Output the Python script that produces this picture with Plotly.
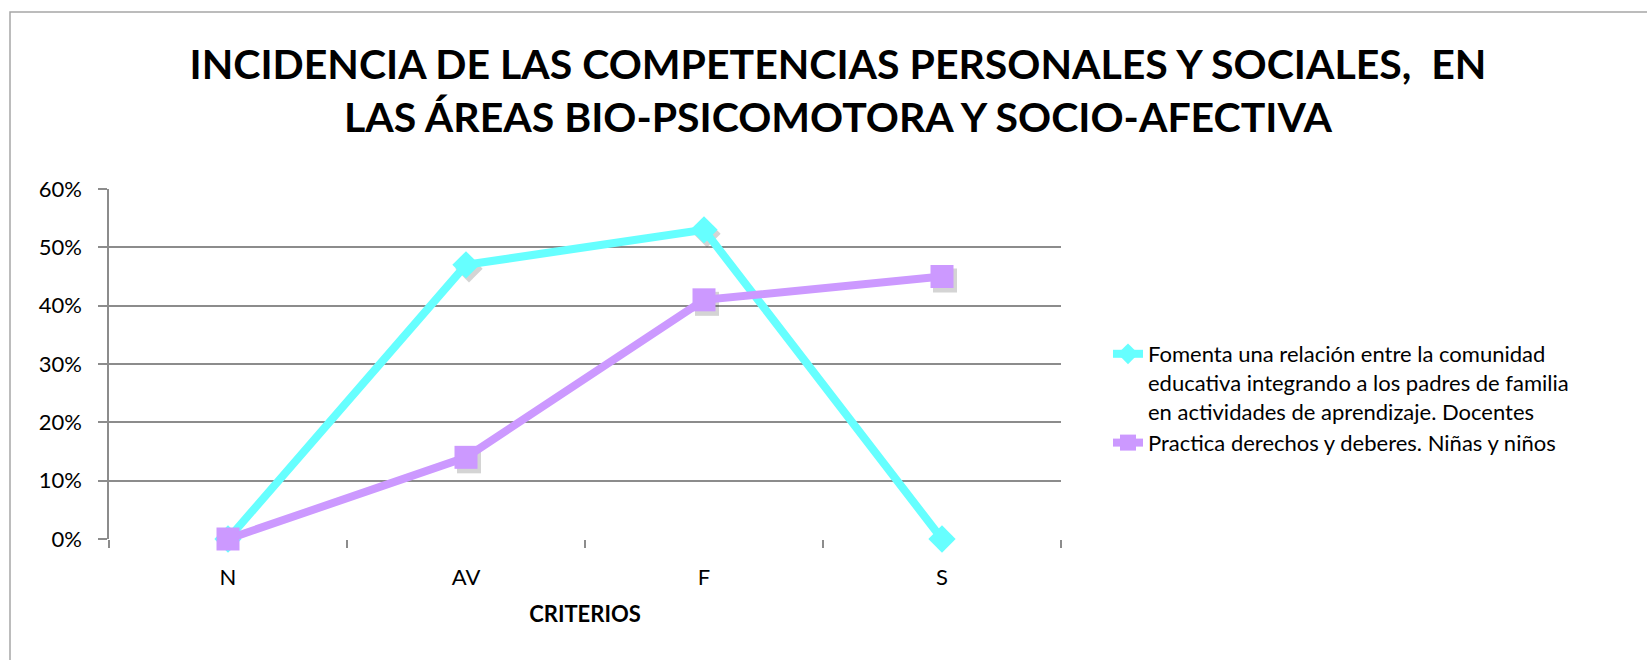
import plotly.graph_objects as go

# Data
criterios = ["N", "AV", "F", "S"]
docentes = [0.00, 0.47, 0.53, 0.00]
ninos = [0.00, 0.14, 0.41, 0.45]

nombre_docentes = ("Fomenta una relación entre la comunidad<br>"
                   "educativa integrando a los padres de familia<br>"
                   "en actividades de aprendizaje. Docentes")
nombre_ninos = "Practica derechos y deberes. Niñas y niños"

titulo = ("INCIDENCIA DE LAS COMPETENCIAS PERSONALES Y SOCIALES,  EN<br>"
          "LAS ÁREAS BIO-PSICOMOTORA Y SOCIO-AFECTIVA")

CYAN = "#66FFFF"
LILA = "#CC99FF"
GRID = "#8c8c8c"
FONT = "Lato, 'Open Sans', sans-serif"

W, H = 1647, 660
L, R, T, B = 109, W - 1061, 189, H - 539
plot_w = W - L - R
plot_h = H - T - B

# pixel offset of the marker drop shadows, expressed as axis-range shifts
sx = 3 / (plot_w / 4)
sy = 4 / plot_h * 0.6

fig = go.Figure()

# soft drop shadows under the markers (base axes, shifted range)
for vals, sym, size in [(docentes, "diamond", 21), (ninos, "square", 24)]:
    fig.add_trace(go.Scatter(
        x=criterios, y=vals, mode="markers", showlegend=False, hoverinfo="skip",
        cliponaxis=False,
        marker=dict(symbol=sym, size=size, color="rgba(60,60,60,0.22)",
                    line=dict(width=0)),
        xaxis="x", yaxis="y"))

fig.add_trace(go.Scatter(
    x=criterios, y=docentes, name=nombre_docentes, mode="lines+markers",
    cliponaxis=False,
    line=dict(color=CYAN, width=8),
    marker=dict(symbol="diamond", size=21, color=CYAN, line=dict(width=0)),
    xaxis="x2", yaxis="y2"))
fig.add_trace(go.Scatter(
    x=criterios, y=ninos, name=nombre_ninos, mode="lines+markers",
    cliponaxis=False,
    line=dict(color=LILA, width=8),
    marker=dict(symbol="square", size=23, color=LILA, line=dict(width=0)),
    xaxis="x2", yaxis="y2"))

fig.update_layout(
    width=W, height=H,
    margin=dict(l=L, r=R, t=T, b=B, pad=0),
    paper_bgcolor="white", plot_bgcolor="white",
    font=dict(family=FONT, size=22, color="#000000"),
    title=dict(text=titulo, xref="container", x=838 / W, xanchor="center",
               yref="container", y=1 - 79 / H, yanchor="middle",
               font=dict(family=FONT, size=41, color="#000000", weight="bold")),
    xaxis=dict(type="category", categoryorder="array", categoryarray=criterios,
               range=[-0.5 - sx, 3.5 - sx], visible=False, fixedrange=True),
    yaxis=dict(range=[0 + sy, 0.6 + sy], visible=False, fixedrange=True),
    xaxis2=dict(type="category", categoryorder="array", categoryarray=criterios,
                range=[-0.5, 3.5], overlaying="x", anchor="y2", side="bottom",
                showgrid=False, showline=False, zeroline=False,
                ticks="outside", tickson="boundaries", ticklen=8,
                tickcolor=GRID, tickwidth=1.5, ticklabelstandoff=23,
                tickfont=dict(size=22),
                title=dict(text="<b>CRITERIOS</b>", standoff=17,
                           font=dict(size=22))),
    yaxis2=dict(range=[0, 0.6], overlaying="y", anchor="x2", side="left",
                dtick=0.1, tickformat=".0%",
                showgrid=True, gridcolor=GRID, gridwidth=1.5,
                showline=True, linecolor=GRID, linewidth=1.5,
                zeroline=False, ticks="outside", ticklen=9,
                tickcolor=GRID, tickwidth=1.5, ticklabelstandoff=12,
                tickfont=dict(size=22)),
    legend=dict(x=(1108 - L) / plot_w, xanchor="left",
                y=(539 - 333) / plot_h, yanchor="top",
                valign="top", bgcolor="rgba(0,0,0,0)", borderwidth=0,
                font=dict(size=22), itemclick=False, itemdoubleclick=False),
    showlegend=True,
)

# outer chart frame (top and left edges fall inside the page)
fig.add_shape(type="rect", xref="paper", yref="paper",
              x0=(10 - L) / plot_w, x1=(W + 20 - L) / plot_w,
              y0=(539 - (H + 20)) / plot_h, y1=(539 - 12) / plot_h,
              line=dict(color="#a6a6a6", width=1.5), fillcolor="rgba(0,0,0,0)",
              layer="below")

fig.write_html("out.html")
